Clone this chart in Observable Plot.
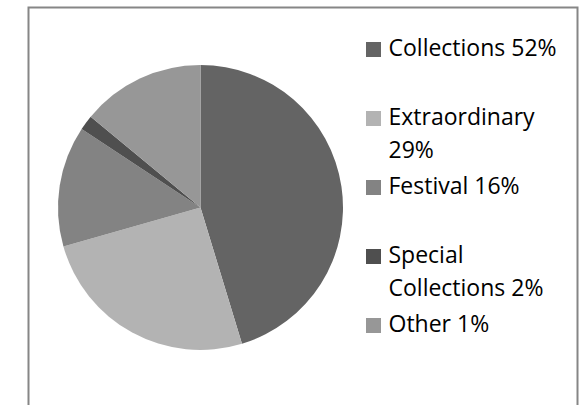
<!DOCTYPE html>
<html>
<head>
<meta charset="utf-8">
<script src="https://cdn.jsdelivr.net/npm/d3@7"></script>
<script src="https://cdn.jsdelivr.net/npm/@observablehq/plot@0.6"></script>
<style>
  html, body { margin: 0; padding: 0; background: #fff; }
  #chart svg { display: block; }
</style>
</head>
<body>
<div id="chart"></div>
<script>
// Data
const categories = ["Collections", "Extraordinary", "Festival", "Special Collections", "Other"];
const sliceValues = [45.3, 25.3, 13.7, 1.7, 14.0];
const legendLabels = ["Collections 52%", "Extraordinary\n29%", "Festival 16%", "Special\nCollections 2%", "Other 1%"];
const sliceColors = ["#646464", "#b3b3b3", "#838383", "#4f4f4f", "#979797"];

const W = 585, H = 405;
const FONT = "'Open Sans', Lato, sans-serif";
const data = categories.map((c, i) => ({category: c, value: sliceValues[i], label: legendLabels[i], i}));

// layout constants
const CX = 200.5, CY = 207.5, R = 142.5;
const LEG_X = 366, SQ = 15, LEG_Y0 = 42, LEG_STEP = 69, TEXT_X = 388;

function pieMark(index, scales) {
  const g = d3.create("svg:g");
  const arcs = d3.pie().sort(null).value(d => d.value)(data);
  const arc = d3.arc().innerRadius(0).outerRadius(R);
  g.attr("transform", `translate(${scales.x(CX)},${scales.y(CY)})`);
  g.selectAll("path").data(arcs).join("path")
    .attr("d", arc)
    .attr("fill", d => scales.color(d.data.category));
  return g.node();
}

const chart = Plot.plot({
  width: W,
  height: H,
  margin: 0,
  style: {fontFamily: FONT, background: "#fff"},
  x: {domain: [0, W], range: [0, W], axis: null},
  y: {domain: [0, H], range: [0, H], axis: null},
  color: {domain: categories, range: sliceColors},
  marks: [
    pieMark,
    Plot.rect(data, {
      x1: () => LEG_X, x2: () => LEG_X + SQ,
      y1: d => LEG_Y0 + d.i * LEG_STEP, y2: d => LEG_Y0 + d.i * LEG_STEP + SQ,
      fill: "category"
    }),
    Plot.text(data, {
      x: () => TEXT_X,
      y: d => LEG_Y0 + d.i * LEG_STEP,
      text: "label",
      textAnchor: "start",
      lineAnchor: "top",
      lineHeight: 1.43,
      fontSize: 23,
      dy: -9.5,
      fill: "#000"
    }),
    Plot.frame({stroke: "#868686", strokeWidth: 2, insetLeft: 28, insetTop: 7, insetRight: 8, insetBottom: -20})
  ]
});

document.getElementById("chart").appendChild(chart);
</script>
</body>
</html>
